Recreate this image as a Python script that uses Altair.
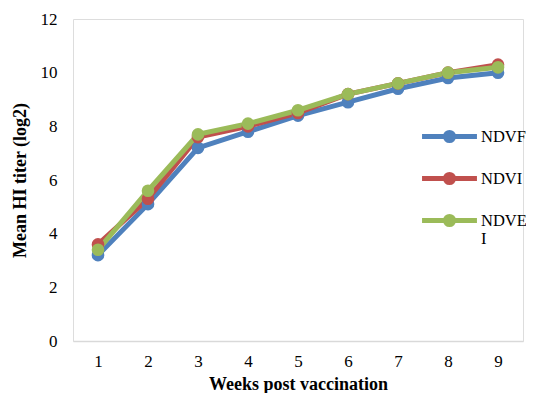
import altair as alt
import pandas as pd

weeks = [1, 2, 3, 4, 5, 6, 7, 8, 9]
ndvf = [3.2, 5.1, 7.2, 7.8, 8.4, 8.9, 9.4, 9.8, 10.0]
ndvi = [3.6, 5.3, 7.6, 8.0, 8.5, 9.2, 9.6, 10.0, 10.3]
ndvei = [3.4, 5.6, 7.7, 8.1, 8.6, 9.2, 9.6, 10.0, 10.2]
series_names = ["NDVF", "NDVI", "NDVEI"]
series_colors = ["#4F81BD", "#C0504D", "#9BBB59"]

rows = []
for name, vals in zip(series_names, [ndvf, ndvi, ndvei]):
    for w, v in zip(weeks, vals):
        rows.append({"week": w, "value": v, "series": name})
df = pd.DataFrame(rows)

FONT = "Liberation Serif"

color = alt.Color(
    "series:N",
    scale=alt.Scale(domain=series_names, range=series_colors),
    sort=series_names,
    legend=alt.Legend(
        title=None,
        orient="none",
        legendX=365,
        legendY=106,
        symbolType="M-3.05,0H3.05M-0.45,0a0.45,0.45 0 1,0 0.9,0a0.45,0.45 0 1,0 -0.9,0",
        symbolSize=324,
        symbolStrokeWidth=5,
        labelFont=FONT,
        labelFontSize=16.5,
        labelColor="#000000",
        rowPadding=13,
        labelOffset=20,
        labelLimit=200,
        labelExpr="datum.label == 'NDVEI' ? ['NDVE', 'I'] : datum.label",
        labelBaseline="middle",
    ),
)

base = alt.Chart(df).encode(
    x=alt.X(
        "week:O",
        title="Weeks post vaccination",
        axis=alt.Axis(
            labelAngle=0,
            ticks=False,
            domainColor="#d9d9d9",
            domainWidth=1.5,
            labelPadding=12,
            titlePadding=6,
            labelFont=FONT,
            labelFontSize=17,
            labelColor="#000000",
            titleFont=FONT,
            titleFontSize=18,
            titleFontWeight="bold",
            titleColor="#000000",
            grid=False,
        ),
        scale=alt.Scale(padding=0.5),
    ),
    y=alt.Y(
        "value:Q",
        title="Mean HI titer (log2)",
        scale=alt.Scale(domain=[0, 12]),
        axis=alt.Axis(
            values=[0, 2, 4, 6, 8, 10, 12],
            ticks=False,
            domain=False,
            grid=False,
            labelPadding=16,
            titlePadding=11,
            labelFont=FONT,
            labelFontSize=17,
            labelColor="#000000",
            titleFont=FONT,
            titleFontSize=18,
            titleFontWeight="bold",
            titleColor="#000000",
        ),
    ),
    color=color,
)

lines = base.mark_line(strokeWidth=5, point=alt.OverlayMarkDef(size=160, filled=True, opacity=1))

chart = lines.properties(
    width=450,
    height=322,
    autosize=alt.AutoSizeParams(type="none"),
    padding={"left": 65, "top": 11, "right": 3, "bottom": 52},
).configure_view(stroke=None).configure(background="#ffffff")

chart.save("out.html", embed_options={"renderer": "svg", "actions": False})
